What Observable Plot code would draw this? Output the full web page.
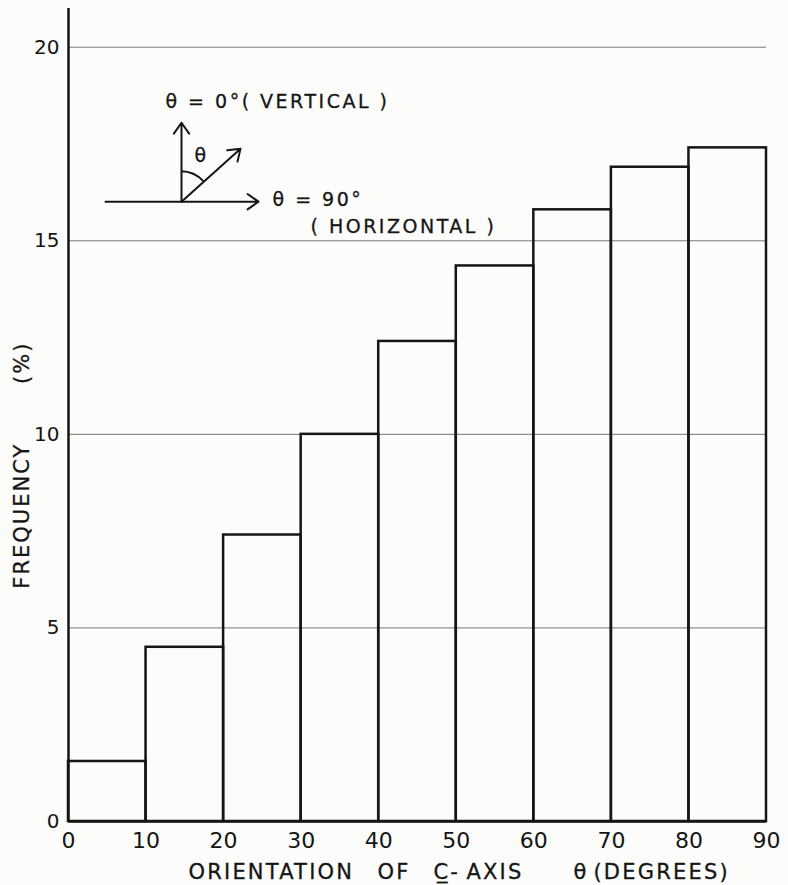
<!DOCTYPE html>
<html>
<head>
<meta charset="utf-8">
<script src="https://cdn.jsdelivr.net/npm/d3@7"></script>
<script src="https://cdn.jsdelivr.net/npm/@observablehq/plot@0.6"></script>
<style>
  html, body { margin: 0; padding: 0; background: #fcfcfa; }
  svg text { white-space: pre; }
  text[aria-label="x-title"] { letter-spacing: 2.2px; }
  text[aria-label="y-title"] { letter-spacing: 2px; }
  text[aria-label="diagram-text"] { letter-spacing: 2.5px; }
</style>
</head>
<body>
<div id="chart"></div>
<script>
// ---- data ----
const binStart = [0, 10, 20, 30, 40, 50, 60, 70, 80];
const binEnd = [10, 20, 30, 40, 50, 60, 70, 80, 90];
const frequency = [1.55, 4.5, 7.4, 10.0, 12.4, 14.35, 15.8, 16.9, 17.4];
const xTicks = [0, 10, 20, 30, 40, 50, 60, 70, 80, 90];
const yTicks = [0, 5, 10, 15, 20];
const gridValues = [5, 10, 15, 20];
const xLabelParts = ["ORIENTATION", "OF", "C\u0332-", "AXIS", "\u03B8", "(DEGREES)"];
const xLabelStarts = [15.47, 39.84, 47.06, 51.31, 65.11, 67.69];
const yLabelWords = ["FREQUENCY", "(%)"];
const yLabelPos = [7.9, 11.85];

// inset diagram (in data units)
const diagramOrigin = {x: 14.57, y: 16.01};
const diagramArrows = [
  {x1: 14.57, y1: 16.01, x2: 14.57, y2: 18.05},
  {x1: 4.77, y1: 16.01, x2: 24.5, y2: 16.01},
  {x1: 14.57, y1: 16.01, x2: 22.18, y2: 17.38}
];
const diagramTexts = [
  {x: 12.5, y: 18.42, text: "\u03B8 = 0\u00B0( VERTICAL )"},
  {x: 26.3, y: 15.9, text: "\u03B8 = 90\u00B0"},
  {x: 31.2, y: 15.21, text: "( HORIZONTAL )"}
];
const thetaMark = [{x: 17.0, y: 17.2, text: "\u03B8"}];

const bars = binStart.map((d, i) => ({x1: d, x2: binEnd[i], y: frequency[i]}));

const ink = "#151515";
const font = "DejaVu Sans, sans-serif";

function arcMark(index, scales) {
  const cx = scales.x(diagramOrigin.x), cy = scales.y(diagramOrigin.y);
  const d = diagramArrows[2];
  const dx = scales.x(d.x2) - cx, dy = scales.y(d.y2) - cy;
  const ang = Math.atan2(dx, -dy);
  const r = 30;
  const sx = cx, sy = cy - r;
  const ex = cx + r * Math.sin(ang), ey = cy - r * Math.cos(ang);
  return d3.create("svg:path")
    .attr("d", `M${sx},${sy}A${r},${r} 0 0 1 ${ex},${ey}`)
    .attr("fill", "none").attr("stroke", ink).attr("stroke-width", 2)
    .node();
}

const plot = Plot.plot({
  width: 788,
  height: 885,
  marginLeft: 68,
  marginRight: 22,
  marginTop: 8,
  marginBottom: 64,
  style: {background: "#fcfcfa", fontFamily: font, color: ink},
  x: {domain: [0, 90]},
  y: {domain: [0, 21]},
  marks: [
    Plot.ruleY(gridValues, {x1: 0, x2: 90, stroke: "#777", strokeWidth: 1}),
    Plot.rectY(bars, {x1: "x1", x2: "x2", y: "y", fill: "none", stroke: ink, strokeWidth: 2.5}),
    Plot.ruleX([0], {y1: 0, y2: 21, stroke: ink, strokeWidth: 2.5}),
    Plot.ruleY([0], {x1: 0, x2: 90, stroke: ink, strokeWidth: 2.5}),
    Plot.axisX(xTicks, {tickSize: 0, tickPadding: 11, fontSize: 22, label: null, fill: ink, stroke: ink, strokeWidth: 0.3}),
    Plot.axisY(yTicks, {tickSize: 0, tickPadding: 9, fontSize: 20, label: null, fill: ink, stroke: ink, strokeWidth: 0.3}),
    Plot.text(xLabelParts, {x: (d, i) => xLabelStarts[i], frameAnchor: "bottom", dy: 57, lineAnchor: "bottom", textAnchor: "start", fontSize: 21, fill: ink, stroke: ink, strokeWidth: 0.3, text: d => d, ariaLabel: () => "x-title"}),
    Plot.text(yLabelWords, {x: 0, y: (d, i) => yLabelPos[i], dx: -46, rotate: -90, fontSize: 21, fill: ink, stroke: ink, strokeWidth: 0.3, text: d => d, ariaLabel: () => "y-title"}),
    Plot.arrow(diagramArrows, {x1: "x1", y1: "y1", x2: "x2", y2: "y2", stroke: ink, strokeWidth: 2, headLength: 10, headAngle: 70}),
    arcMark,
    Plot.text(diagramTexts, {x: "x", y: "y", text: "text", textAnchor: "start", lineAnchor: "bottom", fontSize: 19, fill: ink, stroke: ink, strokeWidth: 0.3, ariaLabel: () => "diagram-text"}),
    Plot.text(thetaMark, {x: "x", y: "y", text: "text", fontSize: 19, fill: ink, stroke: ink, strokeWidth: 0.3})
  ]
});
document.getElementById("chart").appendChild(plot);
</script>
</body>
</html>
